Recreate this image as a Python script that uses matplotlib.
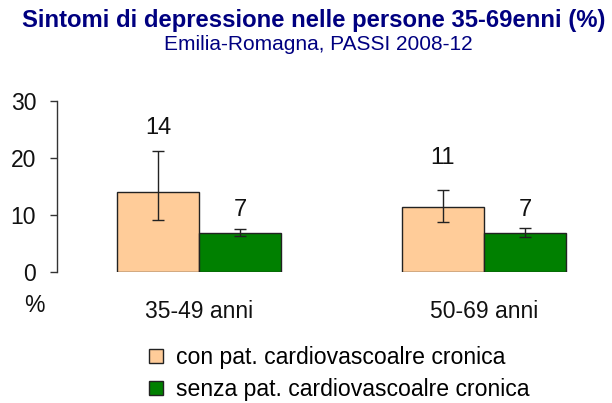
import matplotlib
matplotlib.use("Agg")
import matplotlib.pyplot as plt
import numpy as np

plt.rcParams['font.family'] = ['Liberation Sans', 'DejaVu Sans']

categories = ["35-49 anni", "50-69 anni"]
series_names = ["con pat. cardiovascoalre cronica", "senza pat. cardiovascoalre cronica"]
con_vals = [14.0, 11.4]
con_lo = [9.1, 8.8]
con_hi = [21.2, 14.4]
senza_vals = [6.8, 6.8]
senza_lo = [6.4, 6.2]
senza_hi = [7.6, 7.8]
con_labels = ["14", "11"]
senza_labels = ["7", "7"]
yticks = [0, 10, 20, 30]

# label vertical positions (layout)
con_label_y = [25.3, 20.0]
senza_label_y = [10.9, 10.9]

col_con = "#FFCC99"
col_senza = "#008000"

fig = plt.figure(figsize=(6.12, 4.03), dpi=100)
ax = fig.add_axes([57/612, 1-272/403, 1-57/612, (272-101)/403])

x = np.arange(len(categories))
w = 0.288
c_err = [np.array(con_vals)-np.array(con_lo), np.array(con_hi)-np.array(con_vals)]
s_err = [np.array(senza_vals)-np.array(senza_lo), np.array(senza_hi)-np.array(senza_vals)]
ax.bar(x - w/2, con_vals, w, color=col_con, edgecolor="#222222", linewidth=1.0,
       yerr=c_err, error_kw=dict(ecolor="#222222", elinewidth=1.0, capsize=4, capthick=1.0),
       label=series_names[0])
ax.bar(x + w/2, senza_vals, w, color=col_senza, edgecolor="#222222", linewidth=1.0,
       yerr=s_err, error_kw=dict(ecolor="#222222", elinewidth=1.0, capsize=4, capthick=1.0),
       label=series_names[1])

for i in range(len(categories)):
    ax.text(x[i] - w/2, con_label_y[i], con_labels[i], ha='center', va='center', fontsize=17, color='#111111')
    ax.text(x[i] + w/2, senza_label_y[i], senza_labels[i], ha='center', va='center', fontsize=17, color='#111111')

ax.set_xlim(-0.498, 1.449)
ax.set_ylim(0, 30)
ax.set_yticks(yticks)
ax.set_yticklabels([str(t) for t in yticks], fontsize=16.5, color='#111111')
ax.set_xticks(x)
ax.set_xticklabels(categories, fontsize=16.5, color='#111111')
ax.tick_params(axis='x', length=0, pad=20)
ax.tick_params(axis='y', length=5, width=1, direction='out', pad=10, color='#333333')
for s in ['top', 'right', 'bottom']:
    ax.spines[s].set_visible(False)
ax.spines['left'].set_color('#333333')
ax.spines['left'].set_linewidth(1.0)
ax.patch.set_alpha(0)

fig.text(34/612, 1-305/403, "%", ha='center', va='center', fontsize=16.5, color='#111111')

fig.text(314/612, 1-20/403, "Sintomi di depressione nelle persone 35-69enni (%)",
         ha='center', va='center', fontsize=17.2, fontweight='bold', color='#000080')
fig.text(318/612, 1-45/403, "Emilia-Romagna, PASSI 2008-12",
         ha='center', va='center', fontsize=15, color='#000080')

leg = fig.legend(loc='upper left', bbox_to_anchor=(149/612, 1-346/403), frameon=False,
                 fontsize=16.6, handlelength=0.6, handleheight=0.6, handletextpad=0.55,
                 borderpad=0, borderaxespad=0, labelspacing=0.4)

fig.savefig("out.png", dpi=100)
